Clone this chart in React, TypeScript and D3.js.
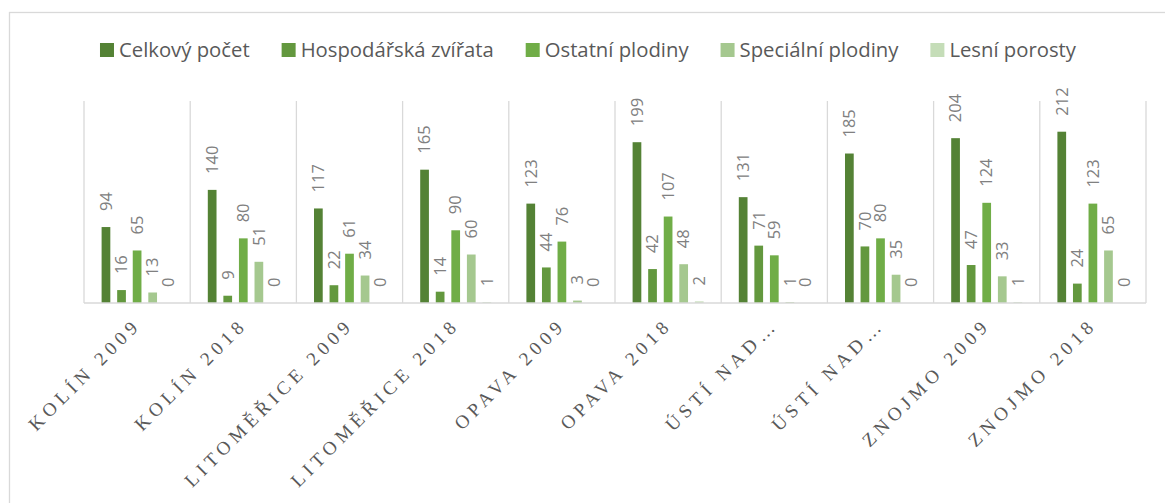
import React, { useLayoutEffect, useRef, useState } from 'react'
import * as d3 from 'd3'

const categories = [
  'Kolín 2009',
  'Kolín 2018',
  'Litoměřice 2009',
  'Litoměřice 2018',
  'Opava 2009',
  'Opava 2018',
  'Ústí nad Labem 2009',
  'Ústí nad Labem 2018',
  'Znojmo 2009',
  'Znojmo 2018',
]

const tickLabels = [
  'KOLÍN 2009',
  'KOLÍN 2018',
  'LITOMĚŘICE 2009',
  'LITOMĚŘICE 2018',
  'OPAVA 2009',
  'OPAVA 2018',
  'ÚSTÍ NAD…',
  'ÚSTÍ NAD…',
  'ZNOJMO 2009',
  'ZNOJMO 2018',
]

const seriesNames = [
  'Celkový počet',
  'Hospodářská zvířata',
  'Ostatní plodiny',
  'Speciální plodiny',
  'Lesní porosty',
]

const seriesColors = ['#548235', '#63983e', '#70ad47', '#a5c88f', '#c5ddb8']

const celkovyPocet = [94, 140, 117, 165, 123, 199, 131, 185, 204, 212]
const hospodarskaZvirata = [16, 9, 22, 14, 44, 42, 71, 70, 47, 24]
const ostatniPlodiny = [65, 80, 61, 90, 76, 107, 59, 80, 124, 123]
const specialniPlodiny = [13, 51, 34, 60, 3, 48, 1, 35, 33, 65]
const lesniPorosty = [0, 0, 0, 1, 0, 2, 0, 0, 1, 0]

const seriesValues = [celkovyPocet, hospodarskaZvirata, ostatniPlodiny, specialniPlodiny, lesniPorosty]

const W = 1165
const H = 503
const plotLeft = 84
const plotRight = 1146
const plotTop = 101
const plotBottom = 303
const sansFont = '"Open Sans", "Noto Sans", sans-serif'

export default function App() {
  const x = d3.scaleBand<string>().domain(categories).range([plotLeft, plotRight]).padding(0)
  const outer = 17.6
  const xInner = d3
    .scaleBand<string>()
    .domain(seriesNames)
    .range([outer, x.bandwidth() - outer])
    .paddingInner(0.44)
  const y = d3.scaleLinear().domain([0, 250]).range([plotBottom, plotTop])

  const legendRefs = useRef<(SVGTextElement | null)[]>([])
  const [legendW, setLegendW] = useState<number[]>(seriesNames.map((s) => s.length * 10))
  useLayoutEffect(() => {
    setLegendW(legendRefs.current.map((t) => (t ? t.getComputedTextLength() : 0)))
  }, [])

  // legend layout: square + gap + text, items separated by a fixed gap
  const sq = 14
  const itemGap = 32
  const total = d3.sum(legendW, (w) => sq + 5 + w) + itemGap * (seriesNames.length - 1)
  let cursor = 588 - total / 2
  const legendX = legendW.map((w) => {
    const at = cursor
    cursor += sq + 5 + w + itemGap
    return at
  })

  const gridXs = [...categories.map((c) => x(c) as number), plotRight]

  return (
    <svg
      width={W}
      height={H}
      style={{ position: 'absolute', left: 0, top: 0, background: '#fff' }}
    >
      <rect x={9.5} y={12.5} width={1300} height={700} fill="#fff" stroke="#d9d9d9" strokeWidth={1.3} />

      <g className="legend">
        {seriesNames.map((s, i) => (
          <g key={s} transform={`translate(${legendX[i]},0)`}>
            <rect x={0} y={43} width={sq} height={sq} fill={seriesColors[i]} />
            <text
              ref={(el) => {
                legendRefs.current[i] = el
              }}
              x={sq + 5}
              y={50}
              dy="0.35em"
              fontFamily={sansFont}
              fontSize={20.3}
              fill="#595959"
            >
              {s}
            </text>
          </g>
        ))}
      </g>

      <g className="grid">
        {gridXs.map((gx, i) => (
          <line key={i} x1={gx} x2={gx} y1={plotTop} y2={plotBottom} stroke="#d9d9d9" strokeWidth={1.3} />
        ))}
      </g>

      <g className="bars">
        {categories.map((c, ci) => (
          <g key={c} transform={`translate(${x(c)},0)`}>
            {seriesNames.map((s, si) => {
              const v = seriesValues[si][ci]
              const bx = xInner(s) as number
              const bw = xInner.bandwidth()
              return (
                <g key={s}>
                  <rect x={bx} y={y(v)} width={bw} height={plotBottom - y(v)} fill={seriesColors[si]} />
                  <text
                    transform={`translate(${bx + bw / 2},${y(v) - 16}) rotate(-90)`}
                    dy="0.35em"
                    fontFamily={sansFont}
                    fontSize={16.5}
                    fill="#808080"
                  >
                    {v}
                  </text>
                </g>
              )
            })}
          </g>
        ))}
      </g>

      <line x1={plotLeft} x2={plotRight} y1={plotBottom} y2={plotBottom} stroke="#d9d9d9" strokeWidth={1.5} />

      <g className="x-axis">
        {categories.map((c, ci) => (
          <text
            key={c}
            transform={`translate(${(x(c) as number) + x.bandwidth() / 2 + 5},326) rotate(-45)`}
            textAnchor="end"
            fontFamily={'"Liberation Serif", "DejaVu Serif", serif'}
            fontSize={19}
            letterSpacing={4.8}
            fill="#595959"
          >
            {tickLabels[ci]}
          </text>
        ))}
      </g>
    </svg>
  )
}
